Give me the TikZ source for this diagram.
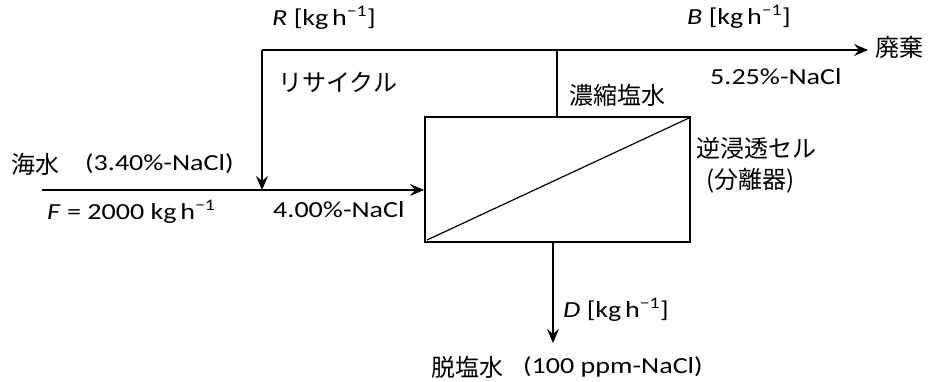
\documentclass[tikz,border=0pt]{standalone}
\usepackage{fontspec}
\setmainfont{Carlito}[FakeStretch=1.22]
\newfontfamily\jp{Noto Sans CJK JP}
\usetikzlibrary{arrows.meta}
\newcommand{\unitkgh}{kg\,h\textsuperscript{−1}}
\begin{document}
\begin{tikzpicture}[x=1pt,y=-1pt,
  lbl/.style={inner sep=0pt,anchor=west,font=\fontsize{23}{26}\selectfont},
  jl/.style={inner sep=0pt,anchor=west,font=\fontsize{24}{26}\selectfont\jp},
  flow/.style={line width=1.4pt,-{Stealth[length=14pt,width=12pt,inset=5pt]}},
  pipe/.style={line width=1.4pt}]
\useasboundingbox (0,0) rectangle (934,382);
% separator box
\coordinate (bl) at (425,242);
\coordinate (tr) at (690,117);
\draw[line width=1.4pt] (bl) rectangle (tr);
\draw[line width=1.2pt] (427,240) -- (689,118);
% connection points
\coordinate (fin) at (42,190);
\coordinate (mix) at (262,190);
\coordinate (boxin) at (424,190);
\coordinate (rtop) at (262,50);
\coordinate (btop) at (557,117);
\coordinate (bjoin) at (557,50);
\coordinate (bout) at (868,50);
\coordinate (dtop) at (553,242);
\coordinate (dout) at (553,343);
% connectors
\draw[flow] (fin) -- (boxin);
\draw[flow] (rtop) -- (mix);
\draw[flow] (rtop) -- (bout);
\draw[pipe] (btop) -- (bjoin);
\draw[flow] (dtop) -- (dout);
% labels
\node[lbl] (lr) at (272,18) {\textit{R} [\unitkgh]};
\node[jl] (lrec) at (278,82) {リサイクル};
\node[jl] (lsea) at (11,164) {海水};
\node[lbl] (lseac) at (85,164) {(3.40\%-NaCl)};
\node[lbl] (lf) at (47,212) {\textit{F} = 2000 \unitkgh};
\node[lbl] (lmix) at (273,210) {4.00\%-NaCl};
\node[jl] (lconc) at (569,95) {濃縮塩水};
\node[lbl] (lb) at (687,17) {\textit{B} [\unitkgh]};
\node[lbl] (lbc) at (710,77) {5.25\%-NaCl};
\node[jl] (lwaste) at (875,47) {廃棄};
\node[jl] (lro) at (696,148) {逆浸透セル};
\node[jl] (lsep) at (706,181) {(分離器)};
\node[lbl] (ld) at (563,310) {\textit{D} [\unitkgh]};
\node[jl] (ldes) at (431,367) {脱塩水};
\node[lbl] (ldesc) at (523,367) {(100 ppm-NaCl)};
\end{tikzpicture}
\end{document}
